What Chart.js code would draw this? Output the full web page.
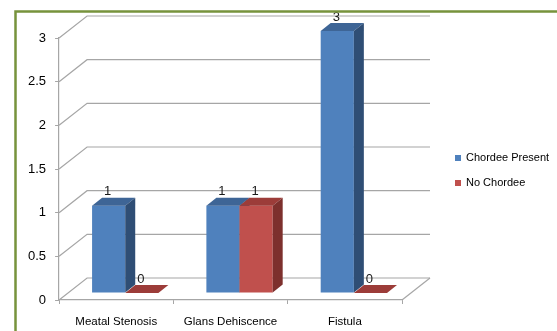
<!DOCTYPE html>
<html>
<head>
<meta charset="utf-8">
<script src="https://cdn.jsdelivr.net/npm/chart.js@4/dist/chart.umd.min.js"></script>
<style>
  html, body { margin: 0; padding: 0; background: #fff; }
  #wrap { position: relative; width: 557px; height: 331px; }
</style>
</head>
<body>
<div id="wrap"><canvas id="c" width="557" height="331"></canvas></div>
<script>
// Complications by chordee status
const categories = ['Meatal Stenosis', 'Glans Dehiscence', 'Fistula'];
const chordeePresent = [1, 1, 3];
const noChordee = [0, 1, 0];
const seriesNames = ['Chordee Present', 'No Chordee'];
const yTicks = [0, 0.5, 1, 1.5, 2, 2.5, 3];

const FONT = "'Liberation Sans', Arial, sans-serif";
const GRID = '#A6A6A6';

// depth of the walls, offset of bars inside the box, and bar depth
const WALL = { dx: 28, dy: -22 };
const BAR_OFF = { dx: 9, dy: -7 };
const BAR_DEPTH = { dx: 10, dy: -8 };

const faces = [
  { front: '#4F81BD', top: '#3E6596', side: '#2F4E75' },
  { front: '#C0504D', top: '#9C3C39', side: '#7D302D' }
];

const box3d = {
  id: 'box3d',
  beforeDatasetsDraw(chart) {
    const ctx = chart.ctx;
    const ys = chart.scales.y, xs = chart.scales.x;
    const L = xs.left, R = xs.right, B = ys.getPixelForValue(0);
    ctx.save();
    ctx.strokeStyle = GRID;
    ctx.lineWidth = 1.2;
    // back wall gridlines with the left-wall diagonals
    yTicks.forEach(v => {
      const py = ys.getPixelForValue(v);
      ctx.beginPath();
      ctx.moveTo(L, py);
      ctx.lineTo(L + WALL.dx, py + WALL.dy);
      ctx.lineTo(R + WALL.dx, py + WALL.dy);
      ctx.stroke();
    });
    // right edge of the floor
    ctx.beginPath();
    ctx.moveTo(R, B);
    ctx.lineTo(R + WALL.dx, B + WALL.dy);
    ctx.stroke();

    // bars, left to right so nearer side faces overlap correctly
    const metas = chart.data.datasets.map((d, i) => chart.getDatasetMeta(i));
    for (let j = 0; j < categories.length; j++) {
      metas.forEach((meta, di) => {
        const el = meta.data[j];
        const c = faces[di];
        const x1 = el.x - el.width / 2 + BAR_OFF.dx;
        const x2 = el.x + el.width / 2 + BAR_OFF.dx;
        const yt = el.y + BAR_OFF.dy;
        const yb = el.base + BAR_OFF.dy;
        // front
        ctx.fillStyle = c.front;
        ctx.fillRect(x1, yt, x2 - x1, yb - yt);
        // top
        ctx.fillStyle = c.top;
        ctx.beginPath();
        ctx.moveTo(x1, yt);
        ctx.lineTo(x2, yt);
        ctx.lineTo(x2 + BAR_DEPTH.dx, yt + BAR_DEPTH.dy);
        ctx.lineTo(x1 + BAR_DEPTH.dx, yt + BAR_DEPTH.dy);
        ctx.closePath();
        ctx.fill();
        // side
        ctx.fillStyle = c.side;
        ctx.beginPath();
        ctx.moveTo(x2, yt);
        ctx.lineTo(x2 + BAR_DEPTH.dx, yt + BAR_DEPTH.dy);
        ctx.lineTo(x2 + BAR_DEPTH.dx, yb + BAR_DEPTH.dy);
        ctx.lineTo(x2, yb);
        ctx.closePath();
        ctx.fill();
      });
    }

    // value labels above each bar
    ctx.fillStyle = '#1a1a1a';
    ctx.font = '13px ' + FONT;
    ctx.textAlign = 'center';
    ctx.textBaseline = 'middle';
    metas.forEach((meta, di) => {
      meta.data.forEach((el, j) => {
        const v = chart.data.datasets[di].data[j];
        ctx.fillText(String(v), el.x + BAR_OFF.dx - 1, el.y - 21);
      });
    });
    ctx.restore();
    return false;
  },
  afterDraw(chart) {
    const ctx = chart.ctx;
    ctx.save();
    // legend
    ctx.font = '11px ' + FONT;
    ctx.textAlign = 'left';
    ctx.textBaseline = 'middle';
    chart.data.datasets.forEach((d, i) => {
      const cy = 158 + i * 25;
      ctx.fillStyle = d.backgroundColor;
      ctx.fillRect(455, cy - 3, 6, 6);
      ctx.fillStyle = '#000';
      ctx.fillText(d.label, 466, cy);
    });
    // outer frame
    ctx.strokeStyle = '#77933C';
    ctx.lineWidth = 2.5;
    ctx.strokeRect(15.5, 11.5, 600, 400);
    ctx.restore();
  }
};

new Chart(document.getElementById('c'), {
  type: 'bar',
  data: {
    labels: categories,
    datasets: [
      { label: seriesNames[0], data: chordeePresent, backgroundColor: faces[0].front },
      { label: seriesNames[1], data: noChordee, backgroundColor: faces[1].front }
    ]
  },
  options: {
    responsive: false,
    animation: false,
    events: [],
    layout: { padding: { left: 19, right: 155, top: 38, bottom: 0 } },
    datasets: { bar: { categoryPercentage: 0.58, barPercentage: 1 } },
    plugins: { legend: { display: false }, tooltip: { enabled: false } },
    scales: {
      x: {
        afterFit: s => { s.height = 31; },
        grid: { display: true, drawOnChartArea: false, offset: true, tickLength: 4, color: GRID },
        border: { display: true, color: GRID, width: 1.2 },
        ticks: { color: '#000', font: { family: FONT, size: 11.5 }, padding: 11, maxRotation: 0 }
      },
      y: {
        min: 0, max: 3,
        afterBuildTicks: s => { s.ticks = yTicks.map(v => ({ value: v })); },
        grid: { display: true, drawOnChartArea: false, tickLength: 4, color: GRID },
        border: { display: true, color: GRID, width: 1.2 },
        ticks: { color: '#000', font: { family: FONT, size: 13 }, padding: 9,
                 callback: v => String(v) }
      }
    }
  },
  plugins: [box3d]
});
</script>
</body>
</html>
